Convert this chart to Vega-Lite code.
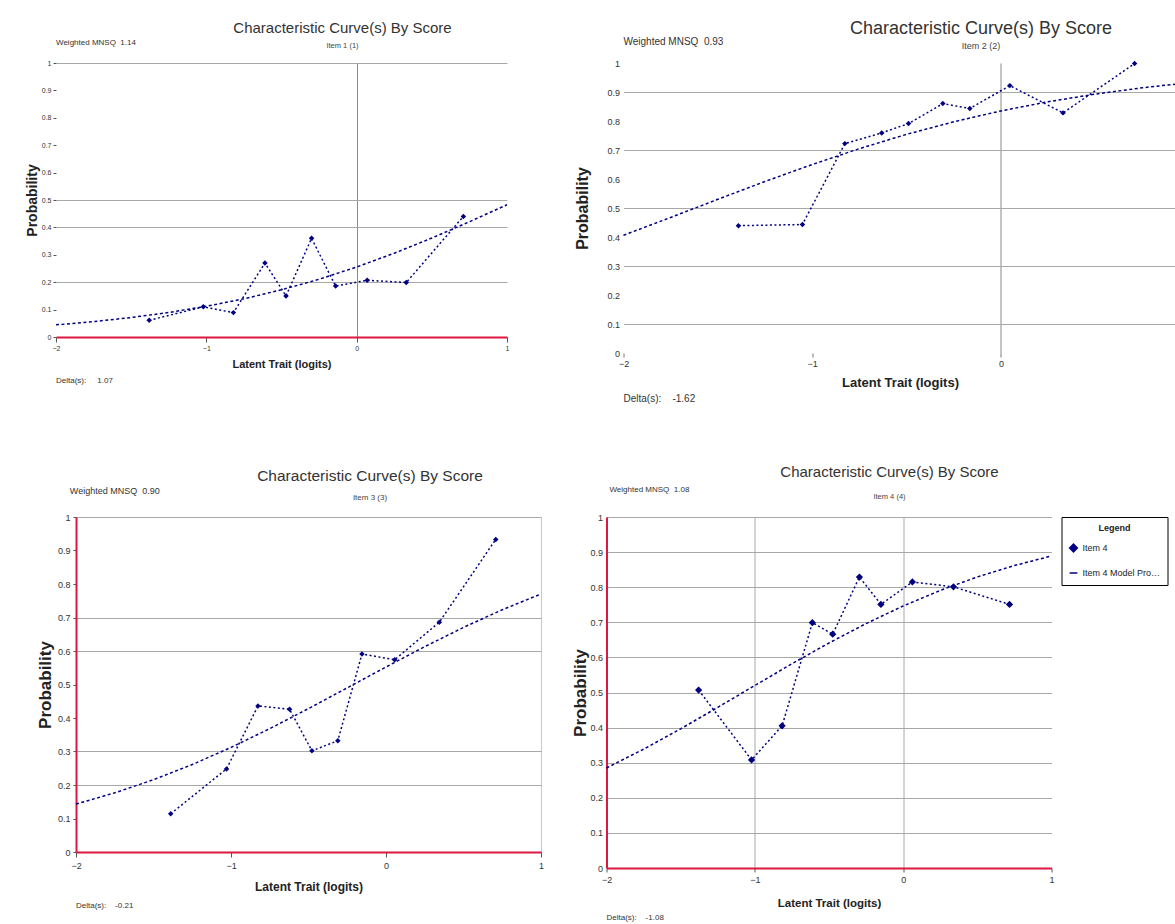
{
  "$schema": "https://vega.github.io/schema/vega-lite/v6.json",
  "background": "white",
  "padding": {"top": 19, "left": 24, "right": 0, "bottom": 0},
  "config": {
    "view": {"stroke": null},
    "font": "Liberation Sans",
    "axis": {"labelFont": "Liberation Sans", "titleFont": "Liberation Sans", "labelColor": "#333", "titleColor": "#222", "gridColor": "#a8a8a8", "gridWidth": 1, "tickColor": "#555", "domainColor": "#dd1740", "domainWidth": 2, "labelFlush": false},
    "title": {"font": "Liberation Sans", "subtitleFont": "Liberation Sans", "fontWeight": "normal", "color": "#333", "subtitleColor": "#444", "frame": "group", "anchor": "middle"},
    "text": {"font": "Liberation Sans", "color": "#333", "align": "left", "baseline": "middle"}
  },
  "spacing": 60,
  "resolve": {"scale": {"shape": "independent"}, "legend": {"shape": "independent"}},
  "vconcat": [
    {
      "spacing": 0,
      "hconcat": [
        {"width": 1, "height": 1, "data": {"values": []}, "mark": {"type": "point"}},
        {
          "spacing": 64.5,
          "hconcat": [
            {
              "width": 451, "height": 274,
              "title": {"text": "Characteristic Curve(s) By Score", "subtitle": "Item 1 (1)", "fontSize": 15, "subtitleFontSize": 7.5, "subtitlePadding": 5.75, "dx": 61, "offset": -10.75},
              "layer": [
                {
                  "data": {"values": [
                    {"theta": -2, "p": 0.0443}, {"theta": -1.75, "p": 0.0562}, {"theta": -1.5, "p": 0.0711}, {"theta": -1.25, "p": 0.0895},
                    {"theta": -1, "p": 0.1121}, {"theta": -0.75, "p": 0.1394}, {"theta": -0.5, "p": 0.1722}, {"theta": -0.25, "p": 0.2108},
                    {"theta": 0, "p": 0.2554}, {"theta": 0.25, "p": 0.3058}, {"theta": 0.5, "p": 0.3612}, {"theta": 0.75, "p": 0.4207}, {"theta": 1, "p": 0.4825}
                  ]},
                  "mark": {"type": "line", "strokeDash": [3, 2.5], "strokeWidth": 1.5, "color": "#000080"},
                  "encoding": {
                    "x": {"field": "theta", "type": "quantitative", "scale": {"domain": [-2, 1], "nice": false, "zero": false},
                      "axis": {"values": [-2, -1, 0, 1], "format": "d", "grid": false, "tickSize": 5, "labelFontSize": 7, "labelPadding": 2, "title": "Latent Trait (logits)", "titleFontSize": 11, "titleFontWeight": "bold", "titlePadding": 7.5}},
                    "y": {"field": "p", "type": "quantitative", "scale": {"domain": [0, 1], "nice": false, "zero": false},
                      "axis": {"values": [0, 0.1, 0.2, 0.3, 0.4, 0.5, 0.6, 0.7, 0.8, 0.9, 1], "format": ".1~f", "grid": false, "domain": false, "tickSize": 3, "labelFontSize": 7, "labelPadding": 2, "title": "Probability", "titleFontSize": 14, "titleFontWeight": "bold", "titlePadding": 2}}
                  }
                },
                {
                  "data": {"values": [
                    {"theta": -1.38, "p": 0.061}, {"theta": -1.02, "p": 0.11}, {"theta": -0.82, "p": 0.089}, {"theta": -0.61, "p": 0.27},
                    {"theta": -0.47, "p": 0.15}, {"theta": -0.3, "p": 0.36}, {"theta": -0.14, "p": 0.186}, {"theta": 0.07, "p": 0.207},
                    {"theta": 0.33, "p": 0.199}, {"theta": 0.71, "p": 0.44}
                  ]},
                  "mark": {"type": "line", "strokeDash": [2, 2.5], "strokeWidth": 1.5, "color": "#000080", "point": {"shape": "diamond", "filled": true, "size": 30, "color": "#000080"}},
                  "encoding": {
                    "x": {"field": "theta", "type": "quantitative", "scale": {"domain": [-2, 1], "nice": false, "zero": false},
                      "axis": {"orient": "top", "grid": true, "values": [0], "labels": false, "ticks": false, "domain": false, "title": null, "gridColor": "#8a8a8a"}},
                    "y": {"field": "p", "type": "quantitative", "scale": {"domain": [0, 1], "nice": false, "zero": false},
                      "axis": {"orient": "right", "grid": true, "values": [0.2, 0.4, 0.5, 1], "labels": false, "ticks": false, "domain": false, "title": null}}
                  }
                },
                {
                  "data": {"values": [{"label": "Weighted MNSQ\u00a0\u00a01.14"}]},
                  "mark": {"type": "text", "fontSize": 8},
                  "encoding": {"text": {"field": "label"},
                    "x": {"datum": -2, "type": "quantitative", "scale": {"domain": [-2, 1], "nice": false, "zero": false}, "axis": null},
                    "y": {"datum": 1.073, "type": "quantitative", "scale": {"domain": [0, 1], "nice": false, "zero": false}, "axis": null}}
                },
                {
                  "data": {"values": [{"label": "Delta(s):\u00a0\u00a0\u00a0\u00a0\u00a01.07"}]},
                  "mark": {"type": "text", "fontSize": 8},
                  "encoding": {"text": {"field": "label"},
                    "x": {"datum": -2, "type": "quantitative", "scale": {"domain": [-2, 1], "nice": false, "zero": false}, "axis": null},
                    "y": {"datum": -0.1606, "type": "quantitative", "scale": {"domain": [0, 1], "nice": false, "zero": false}, "axis": null}}
                }
              ],
              "resolve": {"axis": {"x": "independent", "y": "independent"}}
            },
            {
              "width": 553, "height": 290,
              "title": {"text": "Characteristic Curve(s) By Score", "subtitle": "Item 2 (2)", "fontSize": 18, "subtitleFontSize": 9, "subtitlePadding": 4.5, "dx": 81, "offset": -14.5},
              "layer": [
                {
                  "data": {"values": [
                    {"theta": -2, "p": 0.406}, {"theta": -1.75, "p": 0.4675}, {"theta": -1.5, "p": 0.53}, {"theta": -1.25, "p": 0.5915},
                    {"theta": -1, "p": 0.65}, {"theta": -0.75, "p": 0.7047}, {"theta": -0.5, "p": 0.754}, {"theta": -0.25, "p": 0.7974},
                    {"theta": 0, "p": 0.8348}, {"theta": 0.25, "p": 0.8665}, {"theta": 0.5, "p": 0.8928}, {"theta": 0.75, "p": 0.9145}, {"theta": 0.93, "p": 0.9276}
                  ]},
                  "mark": {"type": "line", "strokeDash": [3, 2.5], "strokeWidth": 1.5, "color": "#000080"},
                  "encoding": {
                    "x": {"field": "theta", "type": "quantitative", "scale": {"domain": [-2, 0.93], "nice": false, "zero": false},
                      "axis": {"values": [-2, -1, 0], "format": "d", "grid": false, "domain": false, "tickSize": 4, "tickColor": "#777", "labelFontSize": 9, "labelPadding": 2, "title": "Latent Trait (logits)", "titleFontSize": 13, "titleFontWeight": "bold", "titlePadding": 8.5}},
                    "y": {"field": "p", "type": "quantitative", "scale": {"domain": [0, 1], "nice": false, "zero": false},
                      "axis": {"values": [0, 0.1, 0.2, 0.3, 0.4, 0.5, 0.6, 0.7, 0.8, 0.9, 1], "format": ".1~f", "grid": false, "domain": false, "ticks": false, "labelFontSize": 9, "labelPadding": 4, "title": "Probability", "titleFontSize": 16, "titleFontWeight": "bold", "titlePadding": 16}}
                  }
                },
                {
                  "data": {"values": [
                    {"theta": -1.391, "p": 0.439}, {"theta": -1.052, "p": 0.443}, {"theta": -0.827, "p": 0.722}, {"theta": -0.632, "p": 0.759},
                    {"theta": -0.49, "p": 0.791}, {"theta": -0.308, "p": 0.86}, {"theta": -0.165, "p": 0.843}, {"theta": 0.047, "p": 0.922},
                    {"theta": 0.329, "p": 0.828}, {"theta": 0.708, "p": 0.998}
                  ]},
                  "mark": {"type": "line", "strokeDash": [2, 2.5], "strokeWidth": 1.5, "color": "#000080", "point": {"shape": "diamond", "filled": true, "size": 30, "color": "#000080"}},
                  "encoding": {
                    "x": {"field": "theta", "type": "quantitative", "scale": {"domain": [-2, 0.93], "nice": false, "zero": false},
                      "axis": {"orient": "top", "grid": true, "values": [0], "labels": false, "ticks": false, "domain": false, "title": null, "gridColor": "#8a8a8a"}},
                    "y": {"field": "p", "type": "quantitative", "scale": {"domain": [0, 1], "nice": false, "zero": false},
                      "axis": {"orient": "right", "grid": true, "values": [0.1, 0.3, 0.5, 0.7, 0.9], "labels": false, "ticks": false, "domain": false, "title": null}}
                  }
                },
                {
                  "data": {"values": [{"label": "Weighted MNSQ\u00a0\u00a00.93"}]},
                  "mark": {"type": "text", "fontSize": 10},
                  "encoding": {"text": {"field": "label"},
                    "x": {"datum": -2, "type": "quantitative", "scale": {"domain": [-2, 0.93], "nice": false, "zero": false}, "axis": null},
                    "y": {"datum": 1.0741, "type": "quantitative", "scale": {"domain": [0, 1], "nice": false, "zero": false}, "axis": null}}
                },
                {
                  "data": {"values": [{"label": "Delta(s):\u00a0\u00a0\u00a0\u00a0-1.62"}]},
                  "mark": {"type": "text", "fontSize": 10},
                  "encoding": {"text": {"field": "label"},
                    "x": {"datum": -2, "type": "quantitative", "scale": {"domain": [-2, 0.93], "nice": false, "zero": false}, "axis": null},
                    "y": {"datum": -0.157, "type": "quantitative", "scale": {"domain": [0, 1], "nice": false, "zero": false}, "axis": null}}
                }
              ],
              "resolve": {"axis": {"x": "independent", "y": "independent"}}
            }
          ]
        }
      ]
    },
    {
      "spacing": 0,
      "resolve": {"scale": {"shape": "independent"}, "legend": {"shape": "independent"}},
      "hconcat": [
        {"width": 11.5, "height": 1, "data": {"values": []}, "mark": {"type": "point"}},
        {
          "spacing": 26.5,
          "resolve": {"scale": {"shape": "independent"}, "legend": {"shape": "independent"}},
          "hconcat": [
            {
              "width": 465, "height": 335,
              "view": {"stroke": "#c8c8c8"},
              "title": {"text": "Characteristic Curve(s) By Score", "subtitle": "Item 3 (3)", "fontSize": 15.5, "subtitleFontSize": 8, "subtitlePadding": 9.25, "dx": 61.5, "offset": -14.5},
              "layer": [
                {
                  "data": {"values": [
                    {"theta": -2, "p": 0.1431}, {"theta": -1.75, "p": 0.1766}, {"theta": -1.5, "p": 0.2158}, {"theta": -1.25, "p": 0.2611},
                    {"theta": -1, "p": 0.3122}, {"theta": -0.75, "p": 0.3682}, {"theta": -0.5, "p": 0.4281}, {"theta": -0.25, "p": 0.49},
                    {"theta": 0, "p": 0.5523}, {"theta": 0.25, "p": 0.613}, {"theta": 0.5, "p": 0.6704}, {"theta": 0.75, "p": 0.7231}, {"theta": 1, "p": 0.7703}
                  ]},
                  "mark": {"type": "line", "strokeDash": [3, 2.5], "strokeWidth": 1.5, "color": "#000080"},
                  "encoding": {
                    "x": {"field": "theta", "type": "quantitative", "scale": {"domain": [-2, 1], "nice": false, "zero": false},
                      "axis": {"values": [-2, -1, 0, 1], "format": "d", "grid": false, "tickSize": 5, "labelFontSize": 9, "labelPadding": 4, "title": "Latent Trait (logits)", "titleFontSize": 12, "titleFontWeight": "bold", "titlePadding": 11}},
                    "y": {"field": "p", "type": "quantitative", "scale": {"domain": [0, 1], "nice": false, "zero": false},
                      "axis": {"values": [0, 0.1, 0.2, 0.3, 0.4, 0.5, 0.6, 0.7, 0.8, 0.9, 1], "format": ".1~f", "grid": false, "domain": true, "tickSize": 3, "labelFontSize": 9, "labelPadding": 3, "title": "Probability", "titleFontSize": 17, "titleFontWeight": "bold", "titlePadding": 2.5}}
                  }
                },
                {
                  "data": {"values": [
                    {"theta": -1.389, "p": 0.114}, {"theta": -1.029, "p": 0.248}, {"theta": -0.826, "p": 0.436}, {"theta": -0.622, "p": 0.426},
                    {"theta": -0.478, "p": 0.302}, {"theta": -0.311, "p": 0.332}, {"theta": -0.155, "p": 0.591}, {"theta": 0.056, "p": 0.574},
                    {"theta": 0.344, "p": 0.686}, {"theta": 0.708, "p": 0.933}
                  ]},
                  "mark": {"type": "line", "strokeDash": [2, 2.5], "strokeWidth": 1.5, "color": "#000080", "point": {"shape": "diamond", "filled": true, "size": 30, "color": "#000080"}},
                  "encoding": {
                    "x": {"field": "theta", "type": "quantitative", "scale": {"domain": [-2, 1], "nice": false, "zero": false}, "axis": null},
                    "y": {"field": "p", "type": "quantitative", "scale": {"domain": [0, 1], "nice": false, "zero": false},
                      "axis": {"orient": "right", "grid": true, "values": [0.2, 0.3, 0.6, 0.7, 1], "labels": false, "ticks": false, "domain": false, "title": null}}
                  }
                },
                {
                  "data": {"values": [{"label": "Weighted MNSQ\u00a0\u00a00.90"}]},
                  "mark": {"type": "text", "fontSize": 9},
                  "encoding": {"text": {"field": "label"},
                    "x": {"datum": -2.04, "type": "quantitative", "scale": {"domain": [-2, 1], "nice": false, "zero": false}, "axis": null},
                    "y": {"datum": 1.0776, "type": "quantitative", "scale": {"domain": [0, 1], "nice": false, "zero": false}, "axis": null}}
                },
                {
                  "data": {"values": [{"label": "Delta(s):\u00a0\u00a0\u00a0\u00a0-0.21"}]},
                  "mark": {"type": "text", "fontSize": 8},
                  "encoding": {"text": {"field": "label"},
                    "x": {"datum": -2, "type": "quantitative", "scale": {"domain": [-2, 1], "nice": false, "zero": false}, "axis": null},
                    "y": {"datum": -0.1612, "type": "quantitative", "scale": {"domain": [0, 1], "nice": false, "zero": false}, "axis": null}}
                }
              ],
              "resolve": {"axis": {"x": "independent", "y": "independent"}}
            },
            {
              "width": 445, "height": 351,
              "title": {"text": "Characteristic Curve(s) By Score", "subtitle": "Item 4 (4)", "fontSize": 15, "subtitleFontSize": 7.5, "subtitlePadding": 13.75, "dx": 60.5, "offset": -14.75},
              "layer": [
                {
                  "data": {"values": [
                    {"theta": -2, "p": 0.285}, {"theta": -1.75, "p": 0.3385}, {"theta": -1.5, "p": 0.3965}, {"theta": -1.25, "p": 0.4576},
                    {"theta": -1, "p": 0.52}, {"theta": -0.75, "p": 0.5818}, {"theta": -0.5, "p": 0.6411}, {"theta": -0.25, "p": 0.6964},
                    {"theta": 0, "p": 0.7465}, {"theta": 0.25, "p": 0.7908}, {"theta": 0.5, "p": 0.8292}, {"theta": 0.75, "p": 0.8618}, {"theta": 1, "p": 0.889}
                  ]},
                  "mark": {"type": "line", "strokeDash": [3, 2.5], "strokeWidth": 1.5, "color": "#000080"},
                  "encoding": {
                    "x": {"field": "theta", "type": "quantitative", "scale": {"domain": [-2, 1], "nice": false, "zero": false},
                      "axis": {"values": [-2, -1, 0, 1], "format": "d", "grid": false, "tickSize": 4, "labelFontSize": 9, "labelPadding": 3, "title": "Latent Trait (logits)", "titleFontSize": 11.5, "titleFontWeight": "bold", "titlePadding": 13}},
                    "y": {"field": "p", "type": "quantitative", "scale": {"domain": [0, 1], "nice": false, "zero": false},
                      "axis": {"values": [0, 0.1, 0.2, 0.3, 0.4, 0.5, 0.6, 0.7, 0.8, 0.9, 1], "format": ".1~f", "grid": false, "domain": true, "ticks": false, "labelFontSize": 9, "labelPadding": 4, "title": "Probability", "titleFontSize": 17, "titleFontWeight": "bold", "titlePadding": 0}}
                  }
                },
                {
                  "data": {"values": [
                    {"theta": -1.379, "p": 0.507}, {"theta": -1.022, "p": 0.308}, {"theta": -0.816, "p": 0.405}, {"theta": -0.612, "p": 0.699},
                    {"theta": -0.475, "p": 0.666}, {"theta": -0.295, "p": 0.829}, {"theta": -0.15, "p": 0.751}, {"theta": 0.062, "p": 0.815},
                    {"theta": 0.339, "p": 0.801}, {"theta": 0.717, "p": 0.751}
                  ]},
                  "mark": {"type": "line", "strokeDash": [2, 2.5], "strokeWidth": 1.5, "color": "#000080"},
                  "encoding": {
                    "x": {"field": "theta", "type": "quantitative", "scale": {"domain": [-2, 1], "nice": false, "zero": false},
                      "axis": {"orient": "top", "grid": true, "values": [-1, 0], "labels": false, "ticks": false, "domain": false, "title": null}},
                    "y": {"field": "p", "type": "quantitative", "scale": {"domain": [0, 1], "nice": false, "zero": false},
                      "axis": {"orient": "right", "grid": true, "values": [0.1, 0.2, 0.3, 0.4, 0.5, 0.6, 0.7, 0.8, 0.9, 1], "labels": false, "ticks": false, "domain": false, "title": null}}
                  }
                },
                {
                  "data": {"values": [
                    {"theta": -1.379, "p": 0.507, "series": "Item 4"}, {"theta": -1.022, "p": 0.308, "series": "Item 4"}, {"theta": -0.816, "p": 0.405, "series": "Item 4"}, {"theta": -0.612, "p": 0.699, "series": "Item 4"},
                    {"theta": -0.475, "p": 0.666, "series": "Item 4"}, {"theta": -0.295, "p": 0.829, "series": "Item 4"}, {"theta": -0.15, "p": 0.751, "series": "Item 4"}, {"theta": 0.062, "p": 0.815, "series": "Item 4"},
                    {"theta": 0.339, "p": 0.801, "series": "Item 4"}, {"theta": 0.717, "p": 0.751, "series": "Item 4"}
                  ]},
                  "mark": {"type": "point", "filled": false, "fill": "#000080", "stroke": "#000080", "strokeWidth": 1.5, "size": 26, "opacity": 1},
                  "encoding": {
                    "x": {"field": "theta", "type": "quantitative", "scale": {"domain": [-2, 1], "nice": false, "zero": false}, "axis": null},
                    "y": {"field": "p", "type": "quantitative", "scale": {"domain": [0, 1], "nice": false, "zero": false}, "axis": null},
                    "shape": {"field": "series", "type": "nominal",
                      "scale": {"domain": ["Item 4", "Item 4 Model Probability"], "range": ["diamond", "stroke"]},
                      "legend": {"title": "Legend", "orient": "right", "offset": 10, "strokeColor": "#000", "fillColor": "white", "padding": 7, "titleAnchor": "middle", "titleFontSize": 9, "titleFontWeight": "bold", "titleColor": "#222", "titlePadding": 10, "labelFontSize": 9, "labelColor": "#222", "labelLimit": 80, "symbolSize": 60, "rowPadding": 13}}
                  }
                },
                {
                  "data": {"values": [{"label": "Weighted MNSQ\u00a0\u00a01.08"}]},
                  "mark": {"type": "text", "fontSize": 8},
                  "encoding": {"text": {"field": "label"},
                    "x": {"datum": -1.98, "type": "quantitative", "scale": {"domain": [-2, 1], "nice": false, "zero": false}, "axis": null},
                    "y": {"datum": 1.0769, "type": "quantitative", "scale": {"domain": [0, 1], "nice": false, "zero": false}, "axis": null}}
                },
                {
                  "data": {"values": [{"label": "Delta(s):\u00a0\u00a0\u00a0\u00a0-1.08"}]},
                  "mark": {"type": "text", "fontSize": 8},
                  "encoding": {"text": {"field": "label"},
                    "x": {"datum": -2, "type": "quantitative", "scale": {"domain": [-2, 1], "nice": false, "zero": false}, "axis": null},
                    "y": {"datum": -0.1425, "type": "quantitative", "scale": {"domain": [0, 1], "nice": false, "zero": false}, "axis": null}}
                }
              ],
              "resolve": {"axis": {"x": "independent", "y": "independent"}}
            }
          ]
        }
      ]
    }
  ]
}
